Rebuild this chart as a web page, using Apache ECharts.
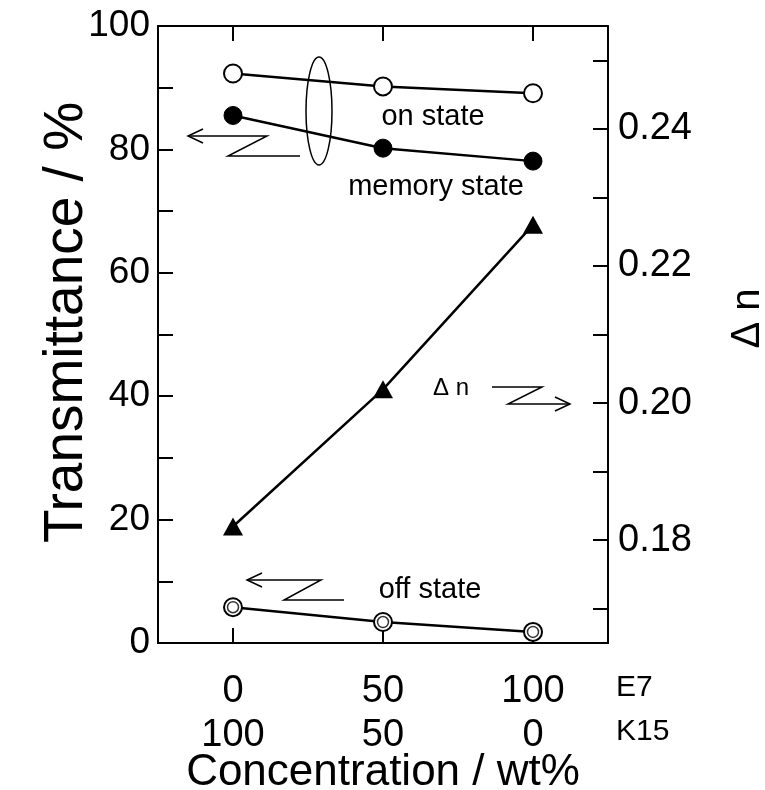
<!DOCTYPE html>
<html>
<head>
<meta charset="utf-8">
<script src="https://cdn.jsdelivr.net/npm/echarts@6/dist/echarts.min.js"></script>
<style>
  html, body { margin: 0; padding: 0; background: #fff; }
  #main { width: 765px; height: 790px; }
</style>
</head>
<body>
<div id="main"></div>
<script>
// E7 content (wt%), K15 is the rest
var conc = [0, 50, 100];
var e7Labels = ['0', '50', '100'];
var k15Labels = ['100', '50', '0'];

// transmittance (%)
var onState = [92.3, 90.2, 89.1];
var memoryState = [85.5, 80.2, 78.1];
var offState = [5.8, 3.4, 1.8];

// birefringence
var deltaN = [0.182, 0.202, 0.226];

var leftTicks = [0, 10, 20, 30, 40, 50, 60, 70, 80, 90, 100];
var leftLabels = [0, 20, 40, 60, 80, 100];
var rightTicks = [0.17, 0.18, 0.19, 0.20, 0.21, 0.22, 0.23, 0.24, 0.25];
var rightLabels = [0.18, 0.20, 0.22, 0.24];

var font = 'Liberation Sans, Arial, Helvetica, sans-serif';

function pairs(ys) {
  var out = [];
  for (var i = 0; i < conc.length; i++) out.push([conc[i], ys[i]]);
  return out;
}

var lineStyle = { color: '#000', width: 2.5 };
var axisLine = { show: true, onZero: false, lineStyle: { color: '#000', width: 2 } };
var thin = { fill: 'none', stroke: '#000', lineWidth: 1.5 };

function label(text, x, y, size, align) {
  return {
    type: 'text', x: x, y: y,
    style: { text: text, font: size + 'px ' + font, fill: '#000', align: align || 'center', verticalAlign: 'middle' }
  };
}

var myChart = echarts.init(document.getElementById('main'));
var option = {
  animation: false,
  backgroundColor: '#fff',
  textStyle: { fontFamily: font, color: '#000' },
  grid: { left: 158, right: 157, top: 26, bottom: 147, containLabel: false, outerBoundsMode: 'none' },
  xAxis: [{
    type: 'value',
    min: -25, max: 125, interval: 25,
    position: 'bottom',
    splitLine: { show: false },
    axisLine: axisLine,
    axisTick: { inside: true, length: 15, customValues: conc, lineStyle: { color: '#000', width: 2 } },
    axisLabel: {
      customValues: conc,
      margin: 27,
      formatter: function (v) {
        var i = conc.indexOf(v);
        return '{a|' + e7Labels[i] + '}\n{a|' + k15Labels[i] + '}';
      },
      rich: { a: { fontSize: 38, lineHeight: 44, fontFamily: font, color: '#000' } }
    },
    name: 'Concentration / wt%',
    nameLocation: 'middle',
    nameGap: 108,
    nameMoveOverlap: false,
    nameTextStyle: { fontSize: 44, fontFamily: font, color: '#000', verticalAlign: 'top' }
  }, {
    type: 'value',
    min: -25, max: 125, interval: 25,
    position: 'top',
    splitLine: { show: false },
    axisLine: axisLine,
    axisTick: { inside: true, length: 15, customValues: conc, lineStyle: { color: '#000', width: 2 } },
    axisLabel: { show: false }
  }],
  yAxis: [{
    type: 'value',
    min: 0, max: 100, interval: 10,
    position: 'left',
    splitLine: { show: false },
    axisLine: axisLine,
    axisTick: { inside: true, length: 15, customValues: leftTicks, lineStyle: { color: '#000', width: 2 } },
    axisLabel: { customValues: leftLabels, margin: 8, fontSize: 37, color: '#000', fontFamily: font },
    name: 'Transmittance / %',
    nameLocation: 'middle',
    nameGap: 64,
    nameRotate: 90,
    nameMoveOverlap: false,
    nameTextStyle: { fontSize: 55, fontFamily: font, color: '#000', padding: [0, 0, 0, 24] }
  }, {
    type: 'value',
    min: 0.165, max: 0.255,
    position: 'right',
    splitLine: { show: false },
    axisLine: axisLine,
    axisTick: { inside: true, length: 15, customValues: rightTicks, lineStyle: { color: '#000', width: 2 } },
    axisLabel: {
      customValues: rightLabels, margin: 10, fontSize: 38, color: '#000', fontFamily: font,
      formatter: function (v) { return v.toFixed(2); }
    },
    name: 'Δ n',
    nameLocation: 'middle',
    nameGap: 120,
    nameRotate: 90,
    nameMoveOverlap: false,
    nameTextStyle: { fontSize: 40, fontFamily: font, color: '#000', padding: [0, 0, 0, 32] }
  }],
  series: [{
    name: 'on state',
    type: 'line',
    data: pairs(onState),
    symbol: 'circle',
    symbolSize: 18,
    itemStyle: { color: '#fff', borderColor: '#000', borderWidth: 2 },
    lineStyle: lineStyle
  }, {
    name: 'memory state',
    type: 'line',
    data: pairs(memoryState),
    symbol: 'circle',
    symbolSize: 18,
    itemStyle: { color: '#000', borderColor: '#000', borderWidth: 1 },
    lineStyle: lineStyle
  }, {
    name: 'off state',
    type: 'line',
    data: pairs(offState),
    symbol: 'circle',
    symbolSize: 18,
    itemStyle: { color: '#fff', borderColor: '#000', borderWidth: 2 },
    lineStyle: lineStyle
  }, {
    // inner ring of the off state markers
    name: 'off state ring',
    type: 'scatter',
    data: pairs(offState),
    symbol: 'circle',
    symbolSize: 11,
    itemStyle: { color: '#fff', borderColor: '#000', borderWidth: 1.5 },
    z: 5
  }, {
    name: 'delta n',
    type: 'line',
    yAxisIndex: 1,
    data: pairs(deltaN),
    symbol: 'triangle',
    symbolSize: [20, 18],
    itemStyle: { color: '#000' },
    lineStyle: lineStyle
  }],
  graphic: [
    label('on state', 433, 117, 29),
    label('memory state', 436, 187, 29),
    label('Δ n', 451, 388, 24),
    label('off state', 430, 590, 29),
    // ellipse grouping on / memory
    { type: 'ellipse', shape: { cx: 319, cy: 111, rx: 13, ry: 54 }, style: thin },
    // arrow to left axis (memory)
    { type: 'polyline', shape: { points: [[300, 156], [228, 156], [267, 136], [188, 136]] }, style: thin },
    { type: 'polyline', shape: { points: [[203, 129], [188, 136], [203, 143]] }, style: thin },
    // arrow to right axis (delta n)
    { type: 'polyline', shape: { points: [[492, 387], [542, 387], [508, 404], [570, 404]] }, style: thin },
    { type: 'polyline', shape: { points: [[555, 397], [570, 404], [555, 411]] }, style: thin },
    // arrow to left axis (off)
    { type: 'polyline', shape: { points: [[344, 600], [284, 600], [321, 580], [247, 580]] }, style: thin },
    { type: 'polyline', shape: { points: [[262, 573], [247, 580], [262, 587]] }, style: thin },
    // component names next to the x labels
    label('E7', 616, 688, 30, 'left'),
    label('K15', 616, 732, 30, 'left')
  ]
};
myChart.setOption(option);
</script>
</body>
</html>
